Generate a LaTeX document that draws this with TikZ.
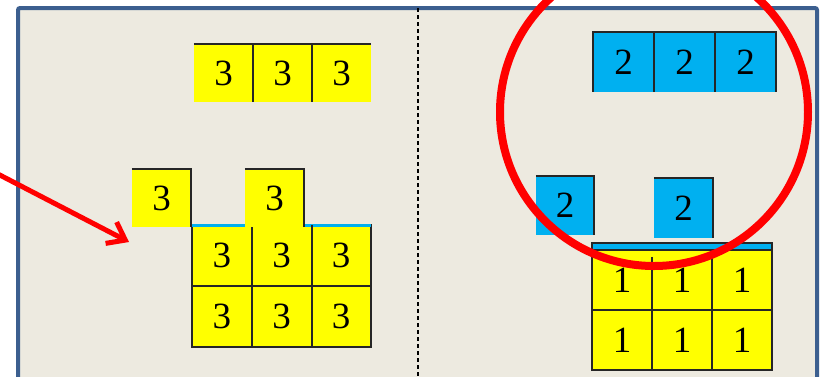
\documentclass[tikz,border=0pt]{standalone}
\usepackage{fontspec}
\setmainfont{Liberation Serif}
\usetikzlibrary{arrows.meta}
\definecolor{framecol}{HTML}{3C5F8F}
\definecolor{bgcol}{HTML}{EDEAE0}
\definecolor{ylw}{HTML}{FFFF00}
\definecolor{cyanb}{HTML}{00B0F0}
\definecolor{redc}{HTML}{FF0000}
\newcommand{\dg}[1]{\raisebox{-4pt}{#1}}
\tikzset{
  cellY/.style={fill=ylw, inner sep=0pt, minimum width=59pt, minimum height=57pt, font=\fontsize{37}{37}\selectfont},
  cellB/.style={fill=cyanb, inner sep=0pt, minimum width=61pt, minimum height=59pt, font=\fontsize{37}{37}\selectfont},
  edge/.style={draw=black!85, line width=2pt},
}
\begin{document}
\begin{tikzpicture}[x=1pt,y=-1pt]
\useasboundingbox (0,0) rectangle (823,376);
\fill[white] (0,0) rectangle (823,376);
\draw[draw=framecol, fill=bgcol, line width=4pt, rounded corners=2pt] (18,8) rectangle (817,392);
\coordinate (dtop) at (418,8);
\coordinate (dbot) at (418,376);
\draw[black, line width=1.3pt, dash pattern=on 4pt off 3pt] (dtop) -- (dbot);

% ---------- left side ----------
\node[cellY] (a1) at (223.5,73) {\dg{3}};
\node[cellY] (a2) at (282.5,73) {\dg{3}};
\node[cellY] (a3) at (341.5,73) {\dg{3}};
\draw[edge] (a1.north west) -- (a3.north east);
\draw[edge] (a1.north east) -- (a1.south east);
\draw[edge] (a2.north east) -- (a2.south east);

% bottom grid (left)
\node[cellY, minimum width=59.7pt, minimum height=61pt] (g11) at (221.8,255.5) {\dg{3}};
\node[cellY, minimum width=59.7pt, minimum height=61pt] (g12) at (281.5,255.5) {\dg{3}};
\node[cellY, minimum width=59.7pt, minimum height=61pt] (g13) at (341.2,255.5) {\dg{3}};
\node[cellY, minimum width=59.7pt, minimum height=61pt] (g21) at (221.8,316.5) {\dg{3}};
\node[cellY, minimum width=59.7pt, minimum height=61pt] (g22) at (281.5,316.5) {\dg{3}};
\node[cellY, minimum width=59.7pt, minimum height=61pt] (g23) at (341.2,316.5) {\dg{3}};
\draw[edge] (g11.north west) rectangle (g23.south east);
\draw[cyanb, line width=3pt] ([yshift=-0.5pt]g11.north west) -- ([yshift=-0.5pt]g13.north east);
\draw[edge] (g11.south west) -- (g13.south east);
\draw[edge] (g11.north east) -- (g21.south east);
\draw[edge] (g12.north east) -- (g22.south east);

% single squares (left)
\node[cellY] (s1) at (161.5,198) {\dg{3}};
\node[cellY] (s2) at (274.5,198) {\dg{3}};
\draw[edge] (s1.north west) -- (s1.north east) -- (s1.south east);
\draw[edge] (s2.north west) -- (s2.north east) -- (s2.south east);

% ---------- right side ----------
\node[cellB] (b1) at (623.5,62) {\dg{2}};
\node[cellB] (b2) at (684.5,62) {\dg{2}};
\node[cellB] (b3) at (745.5,62) {\dg{2}};
\draw[edge] (b1.south west) -- (b1.north west) -- (b3.north east) -- (b3.south east);
\draw[edge] (b1.north east) -- (b1.south east);
\draw[edge] (b2.north east) -- (b2.south east);

% bottom grid (right)
\fill[cyanb] (592,243) rectangle (772,250);
\node[cellY, minimum width=60pt, minimum height=60pt] (h11) at (622,280) {\dg{1}};
\node[cellY, minimum width=60pt, minimum height=60pt] (h12) at (682,280) {\dg{1}};
\node[cellY, minimum width=60pt, minimum height=60pt] (h13) at (742,280) {\dg{1}};
\node[cellY, minimum width=60pt, minimum height=60pt] (h21) at (622,340) {\dg{1}};
\node[cellY, minimum width=60pt, minimum height=60pt] (h22) at (682,340) {\dg{1}};
\node[cellY, minimum width=60pt, minimum height=60pt] (h23) at (742,340) {\dg{1}};
\coordinate (htop) at (592,243);
\draw[edge] (htop) rectangle (h23.south east);
\draw[edge] (h11.north west) -- (h13.north east);
\draw[edge] (h11.south west) -- (h13.south east);
\draw[edge] ([yshift=-7pt]h11.north east) -- (h21.south east);
\draw[edge] ([yshift=-7pt]h12.north east) -- (h22.south east);

% single squares (right)
\node[cellB, minimum width=58pt] (t1) at (565,205.5) {\dg{2}};
\node[cellB, minimum width=59pt] (t2) at (683.5,208) {\dg{2}};
\draw[edge] (t1.north west) -- (t1.north east) -- (t1.south east);
\draw[edge] (t2.north west) -- (t2.north east) -- (t2.south east);

% ---------- red highlights ----------
\coordinate (cc) at (654,112);
\draw[redc, line width=8pt] (cc) circle (154pt);
\coordinate (arrS) at (-6,172);
\coordinate (arrE) at (129,242);
\draw[redc, line width=5pt, -{Straight Barb[length=16pt, width=24pt, line width=5pt]}] (arrS) -- (arrE);
\end{tikzpicture}
\end{document}
